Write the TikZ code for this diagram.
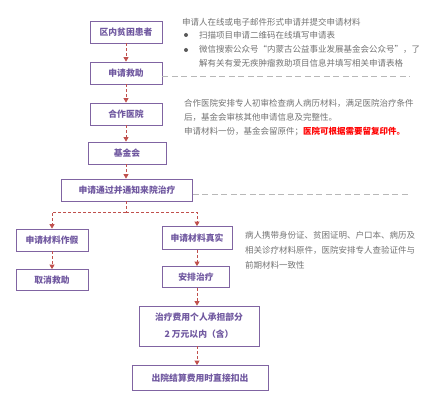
\documentclass[tikz,border=0pt]{standalone}
\usepackage{fontspec}
\setmainfont{Noto Sans CJK SC}
\usetikzlibrary{arrows.meta}
\definecolor{boxpurple}{RGB}{128,100,162}
\definecolor{boxtext}{RGB}{112,88,160}
\definecolor{flowred}{RGB}{192,80,77}
\definecolor{notegray}{RGB}{115,115,115}

\begin{document}
\begin{tikzpicture}[x=1pt,y=-1pt,
  box/.style={draw=boxpurple,line width=0.8pt,fill=white,inner sep=0pt,text=boxtext,font=\fontsize{8.8}{17}\selectfont\bfseries,align=center},
  flow/.style={flowred,line width=0.8pt,dash pattern=on 3pt off 2pt,-{Triangle[length=4.5pt,width=5pt]}},
  branch/.style={flowred,line width=0.8pt,dash pattern=on 3pt off 2pt},
  note/.style={anchor=west,inner sep=0pt,text=notegray,font=\fontsize{8.5}{14}\selectfont,align=left},
  link/.style={black!28,line width=1pt,dash pattern=on 6pt off 3.5pt}]
\useasboundingbox (0,0) rectangle (433,414);
% main column
\node[box,minimum width=72pt,minimum height=22pt] (patient) at (126,32) {区内贫困患者};
\node[box,minimum width=72pt,minimum height=22pt] (apply) at (126,73) {申请救助};
\node[box,minimum width=72pt,minimum height=22pt] (hospital) at (126,114) {合作医院};
\node[box,minimum width=78pt,minimum height=22pt] (fund) at (127,153) {基金会};
\node[box,minimum width=131pt,minimum height=22pt] (approved) at (127,190) {申请通过并通知来院治疗};
% two branches
\node[box,minimum width=72pt,minimum height=22pt] (fake) at (52,240) {申请材料作假};
\node[box,minimum width=72pt,minimum height=21pt] (cancel) at (52,280) {取消救助};
\node[box,minimum width=70pt,minimum height=23pt] (real) at (197,238) {申请材料真实};
\node[box,minimum width=67pt,minimum height=21pt] (arrange) at (196,277) {安排治疗};
\node[box,minimum width=120pt,minimum height=40pt] (treat) at (199,326) {治疗费用个人承担部分\\2 万元以内（含）};
\node[box,minimum width=136pt,minimum height=25pt] (settle) at (200,378) {出院结算费用时直接扣出};
% connectors
\draw[flow] (patient) -- (apply);
\draw[flow] (apply) -- (hospital);
\draw[flow] (hospital) -- (hospital |- fund.north);
\draw[flow] (hospital |- fund.south) -- (hospital |- approved.north);
\draw[branch] (hospital |- approved.south) -- ++(0,11) coordinate (split);
\draw[flow] (split) -| (fake);
\draw[flow] (split) -| (real);
\draw[flow] (fake) -- (cancel);
\draw[flow] (real) -- (real |- arrange.north);
\draw[flow] (real |- arrange.south) -- (real |- treat.north);
\draw[flow] (real |- treat.south) -- (real |- settle.north);
% grey leaders to the notes
\coordinate (linkA) at (410,77);
\coordinate (linkB) at (410,194);
\draw[link] (apply.east |- linkA) -- (linkA);
\draw[link] (approved.east |- linkB) -- (linkB);
% notes
\node[note] (onlineA) at (182,22) {申请人在线或电子邮件形式申请并提交申请材料};
\fill[black!65] (186,35) circle (2pt);
\fill[black!65] (186,50) circle (2pt);
\node[note] (scanA) at (199,35) {扫描项目申请二维码在线填写申请表};
\node[note,anchor=north west] (wechatA) at (199,45) {微信搜索公众号“内蒙古公益事业发展基金会公众号”，了\\解有关有爱无疾肿瘤救助项目信息并填写相关申请表格};
\node[note,anchor=north west] (checkB) at (184,99) {合作医院安排专人初审检查病人病历材料，满足医院治疗条件\\后，基金会审核其他申请信息及完整性。\\申请材料一份，基金会留原件；\textcolor{red}{\bfseries 医院可根据需要留复印件。}};
\node[note,anchor=north west,font=\fontsize{8.5}{15}\selectfont] (bringC) at (245,231) {病人携带身份证、贫困证明、户口本、病历及\\相关诊疗材料原件，医院安排专人查验证件与\\前期材料一致性};
\end{tikzpicture}
\end{document}
